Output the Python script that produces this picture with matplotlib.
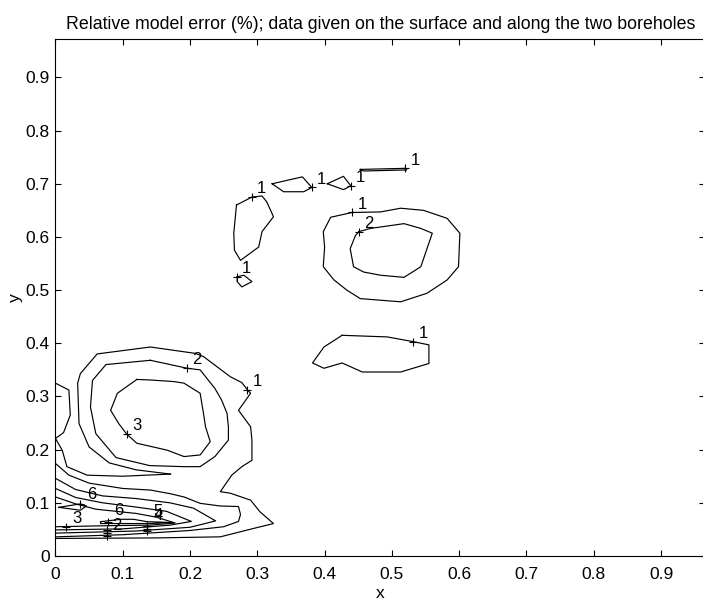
import matplotlib
matplotlib.use("Agg")
import matplotlib.pyplot as plt

plt.rcParams['font.family'] = ['Liberation Sans', 'DejaVu Sans']

# ---- contour lines of the relative model error (x, y in model units) ----
# upper islands, level 1
isl_a_x = [0.269, 0.292, 0.307, 0.314, 0.324, 0.307, 0.302, 0.275, 0.266, 0.265, 0.269]
isl_a_y = [0.660, 0.675, 0.677, 0.666, 0.638, 0.610, 0.581, 0.556, 0.575, 0.607, 0.660]
isl_b_x = [0.270, 0.280, 0.292, 0.277, 0.270, 0.270]
isl_b_y = [0.525, 0.528, 0.516, 0.506, 0.516, 0.525]
isl_c_x = [0.322, 0.367, 0.381, 0.369, 0.339, 0.322]
isl_c_y = [0.700, 0.713, 0.693, 0.685, 0.685, 0.700]
isl_d_x = [0.404, 0.428, 0.439, 0.428, 0.404]
isl_d_y = [0.700, 0.714, 0.696, 0.689, 0.700]
isl_e_x = [0.453, 0.520, 0.522, 0.458, 0.453]
isl_e_y = [0.727, 0.729, 0.726, 0.724, 0.727]
# ring around the upper-right maximum
ring1_x = [0.441, 0.409, 0.398, 0.400, 0.398, 0.414, 0.433, 0.453, 0.513, 0.552, 0.582,
           0.599, 0.601, 0.582, 0.547, 0.513, 0.483, 0.441]
ring1_y = [0.646, 0.637, 0.610, 0.581, 0.544, 0.519, 0.500, 0.484, 0.478, 0.494, 0.519,
           0.544, 0.607, 0.635, 0.650, 0.654, 0.647, 0.646]
ring2_x = [0.451, 0.468, 0.518, 0.543, 0.560, 0.543, 0.518, 0.483, 0.458, 0.443, 0.438, 0.446, 0.451]
ring2_y = [0.610, 0.616, 0.625, 0.616, 0.607, 0.544, 0.524, 0.528, 0.534, 0.544, 0.578, 0.603, 0.610]
# middle island, level 1
isl_f_x = [0.426, 0.493, 0.532, 0.555, 0.555, 0.513, 0.456, 0.426, 0.399, 0.382, 0.399, 0.426]
isl_f_y = [0.415, 0.412, 0.403, 0.397, 0.362, 0.346, 0.346, 0.363, 0.353, 0.363, 0.393, 0.415]

# lower-left region: level 1 around both maxima (upper edge of the wedge)
low1_x = [0.0, 0.150, 0.245, 0.295, 0.324, 0.304, 0.290, 0.260, 0.245, 0.262, 0.277, 0.292,
          0.292, 0.290, 0.272, 0.290, 0.285, 0.277, 0.260, 0.240, 0.220, 0.208, 0.141, 0.062,
          0.037, 0.033, 0.035, 0.050, 0.080, 0.120, 0.171]
low1_y = [0.033, 0.034, 0.036, 0.052, 0.061, 0.083, 0.105, 0.118, 0.121, 0.152, 0.168, 0.180,
          0.218, 0.243, 0.274, 0.306, 0.313, 0.326, 0.337, 0.356, 0.375, 0.381, 0.393, 0.380,
          0.343, 0.325, 0.249, 0.205, 0.175, 0.162, 0.154]
# lower edge of the wedge, meeting the left border
wedge_x = [0.0, 0.010, 0.017, 0.047, 0.100, 0.171]
wedge_y = [0.221, 0.199, 0.168, 0.152, 0.150, 0.154]
# small bulge at the left border
bump_x = [0.0, 0.020, 0.022, 0.012, 0.0]
bump_y = [0.325, 0.312, 0.265, 0.232, 0.221]
# closed loops around the maximum near (0.15, 0.27)
loop2_x = [0.141, 0.196, 0.215, 0.237, 0.247, 0.255, 0.257, 0.257, 0.237, 0.215, 0.191, 0.140,
           0.090, 0.060, 0.052, 0.055, 0.075, 0.141]
loop2_y = [0.368, 0.353, 0.350, 0.315, 0.293, 0.268, 0.243, 0.218, 0.187, 0.168, 0.168, 0.170,
           0.185, 0.230, 0.280, 0.330, 0.360, 0.368]
loop3_x = [0.121, 0.141, 0.176, 0.191, 0.215, 0.220, 0.223, 0.230, 0.215, 0.191, 0.166, 0.121,
           0.106, 0.094, 0.082, 0.092, 0.121]
loop3_y = [0.332, 0.331, 0.328, 0.325, 0.306, 0.268, 0.243, 0.215, 0.190, 0.187, 0.199, 0.212,
           0.229, 0.249, 0.274, 0.306, 0.332]
# nested bands of the ridge along the bottom
band2_x = [0.0, 0.020, 0.050, 0.100, 0.141, 0.171, 0.191, 0.215, 0.245, 0.272, 0.275, 0.272,
           0.250, 0.200, 0.100, 0.0]
band2_y = [0.174, 0.152, 0.137, 0.127, 0.124, 0.117, 0.111, 0.099, 0.094, 0.093, 0.078, 0.065,
           0.055, 0.048, 0.040, 0.036]
band3_x = [0.0, 0.030, 0.070, 0.120, 0.170, 0.205, 0.238, 0.200, 0.120, 0.0]
band3_y = [0.146, 0.125, 0.113, 0.108, 0.100, 0.090, 0.066, 0.054, 0.047, 0.043]
band4_x = [0.0, 0.030, 0.070, 0.120, 0.165, 0.202, 0.170, 0.100, 0.0]
band4_y = [0.127, 0.110, 0.100, 0.092, 0.084, 0.065, 0.058, 0.051, 0.049]
band5_x = [0.0, 0.030, 0.060, 0.120, 0.150, 0.178, 0.140, 0.080, 0.0]
band5_y = [0.111, 0.098, 0.088, 0.080, 0.073, 0.062, 0.058, 0.057, 0.055]
peak6_x = [0.067, 0.097, 0.116, 0.136, 0.173, 0.140, 0.067, 0.067]
peak6_y = [0.0645, 0.069, 0.069, 0.0645, 0.063, 0.061, 0.061, 0.0645]
diam_x = [0.005, 0.037, 0.046, 0.037, 0.005]
diam_y = [0.0915, 0.098, 0.094, 0.086, 0.0915]

contour_lines = [
    (isl_a_x, isl_a_y), (isl_b_x, isl_b_y), (isl_c_x, isl_c_y), (isl_d_x, isl_d_y),
    (isl_e_x, isl_e_y), (ring1_x, ring1_y), (ring2_x, ring2_y), (isl_f_x, isl_f_y),
    (low1_x, low1_y), (wedge_x, wedge_y), (bump_x, bump_y), (loop2_x, loop2_y),
    (loop3_x, loop3_y), (band2_x, band2_y), (band3_x, band3_y), (band4_x, band4_y),
    (band5_x, band5_y), (peak6_x, peak6_y), (diam_x, diam_y),
]

# clabel positions, values and text offsets (points)
lab_x = [0.292, 0.270, 0.381, 0.439, 0.520, 0.441, 0.451, 0.532, 0.196, 0.285, 0.106,
         0.037, 0.015, 0.078, 0.076, 0.136, 0.136]
lab_y = [0.675, 0.525, 0.693, 0.696, 0.729, 0.646, 0.610, 0.403, 0.353, 0.313, 0.229,
         0.098, 0.055, 0.064, 0.037, 0.057, 0.057]
lab_txt = ['1', '1', '1', '1', '1', '1', '2', '1', '2', '1', '3',
           '6', '3', '6', '2', '5', '4']
lab_dx = [7, 7, 7, 7, 7, 7, 7, 7, 7, 7, 7, 8, 8, 8, 7, 8, 8]
lab_dy = [6, 6, 6, 6, 6, 6, 6, 6, 6, 6, 6, 7, 6, 8, 8, 10, 7]
# further clabel crosses on the bottom band edges (their numbers sit under others)
cross_x = [0.076, 0.076, 0.136, 0.136]
cross_y = [0.043, 0.049, 0.047, 0.051]

fig = plt.figure(figsize=(7.03, 6.01), dpi=100)
ax = fig.add_axes([0.0789, 0.0749, 0.9246, 0.860])

for xs, ys in contour_lines:
    ax.plot(xs, ys, color='black', linewidth=0.85)

for x, y, t, dx, dy in zip(lab_x, lab_y, lab_txt, lab_dx, lab_dy):
    ax.plot(x, y, marker='+', color='black', markersize=6, markeredgewidth=0.8)
    ax.annotate(t, (x, y), xytext=(dx, dy), textcoords='offset points',
                ha='center', va='center', fontsize=12)
ax.plot(cross_x, cross_y, linestyle='none', marker='+', color='black',
        markersize=6, markeredgewidth=0.8)

ax.set_xlim(0, 0.966)
ax.set_ylim(0, 0.972)
ticks = [0, 0.1, 0.2, 0.3, 0.4, 0.5, 0.6, 0.7, 0.8, 0.9]
tick_labels = ['0', '0.1', '0.2', '0.3', '0.4', '0.5', '0.6', '0.7', '0.8', '0.9']
ax.set_xticks(ticks)
ax.set_yticks(ticks)
ax.set_xticklabels(tick_labels)
ax.set_yticklabels(tick_labels)
ax.tick_params(direction='in', length=4, width=0.8, top=True, right=True, labelsize=12.5)
ax.tick_params(axis='x', pad=8)
ax.tick_params(axis='y', pad=4)
for s in ax.spines.values():
    s.set_linewidth(0.8)
ax.set_xlabel('x', fontsize=12.5, labelpad=3)
ax.set_ylabel('y', fontsize=12.5, labelpad=2)
ax.set_title('Relative model error (%); data given on the surface and along the two boreholes',
             fontsize=12.8, pad=7.5)

fig.savefig('out.png', dpi=100)
